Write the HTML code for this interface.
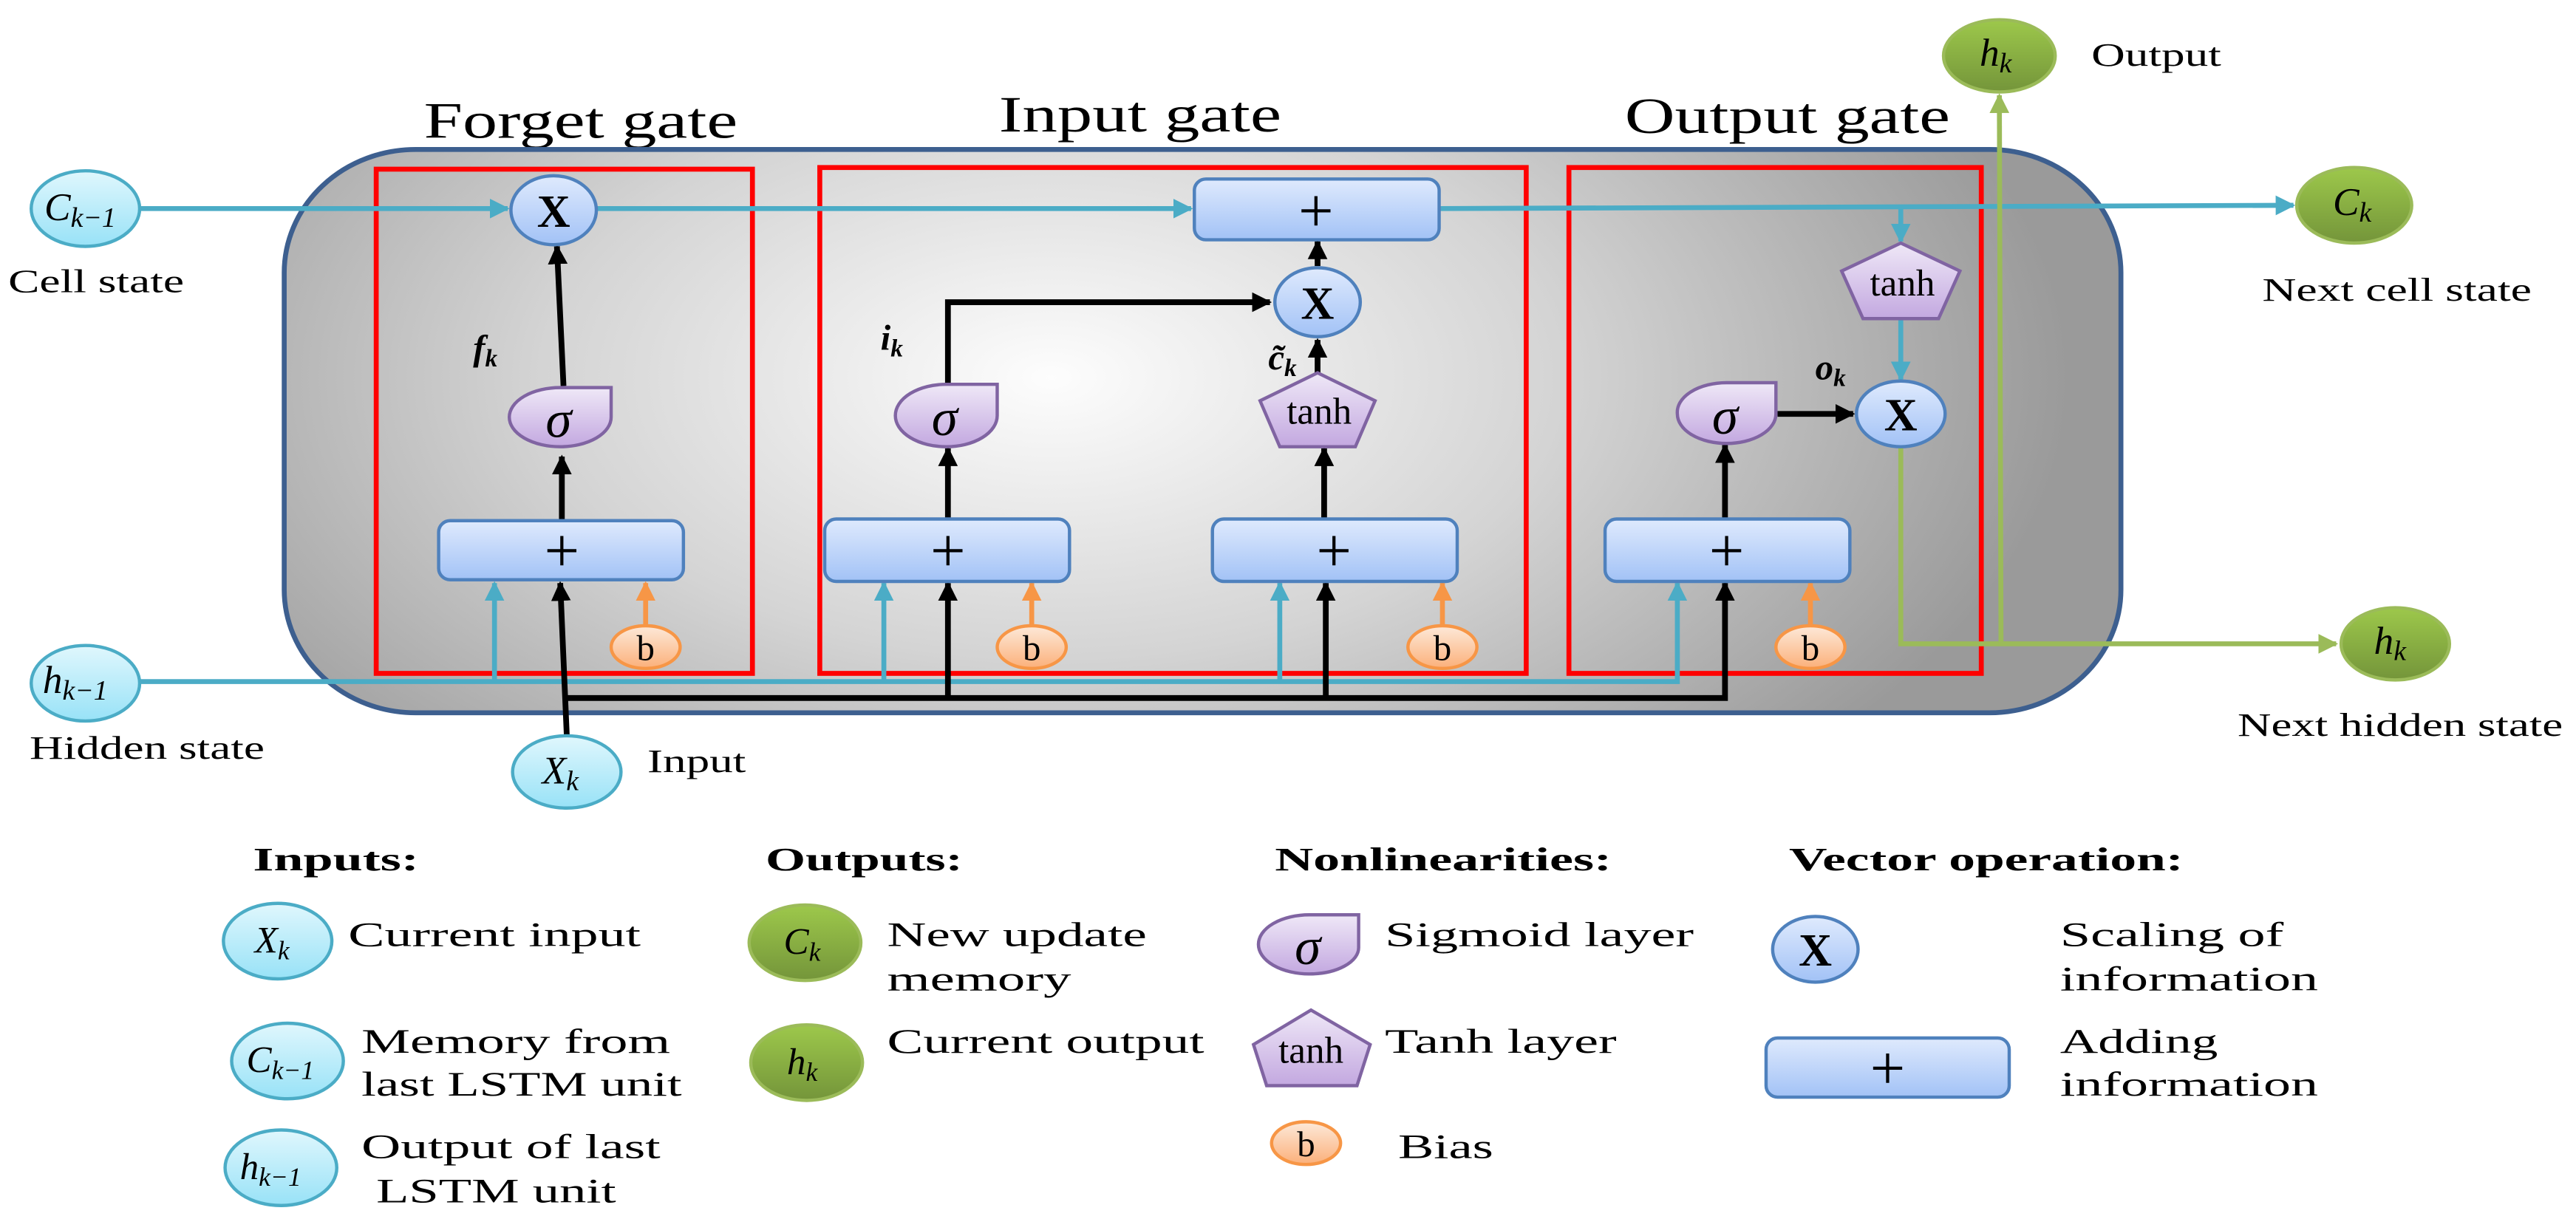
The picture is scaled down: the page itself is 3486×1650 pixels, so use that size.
<!DOCTYPE html>
<html><head><meta charset="utf-8"><style>
html,body{margin:0;padding:0;background:#fff;}
svg{display:block;}
text{font-family:"Liberation Serif","DejaVu Serif",serif;}
</style></head><body>
<svg width="3486" height="1650" viewBox="0 0 1568 742.2" preserveAspectRatio="none" xmlns="http://www.w3.org/2000/svg">
<defs>
<radialGradient id="bg" gradientUnits="userSpaceOnUse" cx="640" cy="230" r="620" gradientTransform="translate(640 230) scale(1 0.55) translate(-640 -230)">
<stop offset="0" stop-color="#fdfdfd"/><stop offset="0.5" stop-color="#d4d4d4"/><stop offset="1" stop-color="#9a9a9a"/></radialGradient>
<linearGradient id="cy" x1="0" y1="0" x2="0" y2="1"><stop offset="0" stop-color="#e0f7fd"/><stop offset="1" stop-color="#98e2f7"/></linearGradient>
<linearGradient id="gr" x1="0" y1="0" x2="0" y2="1"><stop offset="0" stop-color="#9dc84b"/><stop offset="1" stop-color="#74953a"/></linearGradient>
<linearGradient id="bl" x1="0" y1="0" x2="0" y2="1"><stop offset="0" stop-color="#dfeafd"/><stop offset="1" stop-color="#a2c2f6"/></linearGradient>
<linearGradient id="pu" x1="0" y1="0" x2="0" y2="1"><stop offset="0" stop-color="#efe8f7"/><stop offset="1" stop-color="#c3a8e0"/></linearGradient>
<linearGradient id="or" x1="0" y1="0" x2="0" y2="1"><stop offset="0" stop-color="#fde9d9"/><stop offset="1" stop-color="#fbb07a"/></linearGradient>
<marker id="ak" viewBox="0 0 10 10" refX="9" refY="5" markerWidth="12" markerHeight="12" markerUnits="userSpaceOnUse" orient="auto"><path d="M0,0 L10,5 L0,10 z" fill="#000"/></marker>
<marker id="ac" viewBox="0 0 10 10" refX="9" refY="5" markerWidth="12" markerHeight="12" markerUnits="userSpaceOnUse" orient="auto"><path d="M0,0 L10,5 L0,10 z" fill="#4bacc6"/></marker>
<marker id="ao" viewBox="0 0 10 10" refX="9" refY="5" markerWidth="12" markerHeight="12" markerUnits="userSpaceOnUse" orient="auto"><path d="M0,0 L10,5 L0,10 z" fill="#f79646"/></marker>
<marker id="ag" viewBox="0 0 10 10" refX="9" refY="5" markerWidth="12" markerHeight="12" markerUnits="userSpaceOnUse" orient="auto"><path d="M0,0 L10,5 L0,10 z" fill="#9bbb59"/></marker>
</defs>

<text x="258" y="84" font-size="31" textLength="191" lengthAdjust="spacingAndGlyphs">Forget gate</text>
<text x="608" y="80" font-size="31" textLength="172" lengthAdjust="spacingAndGlyphs">Input gate</text>
<text x="989" y="81" font-size="31" textLength="198" lengthAdjust="spacingAndGlyphs">Output gate</text>

<rect x="173" y="91" width="1118" height="343" rx="80" ry="75" fill="url(#bg)" stroke="#3d5f8f" stroke-width="3"/>

<rect x="229" y="103" width="229" height="307" fill="none" stroke="#ff0000" stroke-width="3"/>
<rect x="499" y="102" width="430" height="308" fill="none" stroke="#ff0000" stroke-width="3"/>
<rect x="955" y="102" width="251" height="308" fill="none" stroke="#ff0000" stroke-width="3"/>

<g stroke="#4bacc6" stroke-width="3" fill="none">
<path d="M85,127 L309,127" marker-end="url(#ac)"/>
<path d="M363,127 L725,127" marker-end="url(#ac)"/>
<path d="M876,127 L1396,125" marker-end="url(#ac)"/>
<path d="M1157,127 L1157,147" marker-end="url(#ac)"/>
<path d="M1157,194 L1157,231" marker-end="url(#ac)"/>
<path d="M85,415 L1021,415 L1021,355" marker-end="url(#ac)"/>
<path d="M301,415 L301,355" marker-end="url(#ac)"/>
<path d="M538,415 L538,355" marker-end="url(#ac)"/>
<path d="M779,415 L779,355" marker-end="url(#ac)"/>
</g>

<g stroke="#000" stroke-width="3.5" fill="none">
<path d="M345,448 L341,355" marker-end="url(#ak)"/>
<path d="M344,425 L1050,425 L1050,355" marker-end="url(#ak)"/>
<path d="M577,425 L577,355" marker-end="url(#ak)"/>
<path d="M807,425 L807,355" marker-end="url(#ak)"/>
<path d="M342,317 L342,278" marker-end="url(#ak)"/>
<path d="M343,235 L339,150" marker-end="url(#ak)"/>
<path d="M577,316 L577,273" marker-end="url(#ak)"/>
<path d="M577,234 L577,184 L773,184" marker-end="url(#ak)"/>
<path d="M806,316 L806,273" marker-end="url(#ak)"/>
<path d="M802,227 L802,207" marker-end="url(#ak)"/>
<path d="M802,162 L802,147" marker-end="url(#ak)"/>
<path d="M1050,316 L1050,271" marker-end="url(#ak)"/>
<path d="M1082,252 L1128,252" marker-end="url(#ak)"/>
</g>

<g stroke="#f79646" stroke-width="3" fill="none">
<path d="M393,381 L393,355" marker-end="url(#ao)"/>
<path d="M628,381 L628,355" marker-end="url(#ao)"/>
<path d="M878,381 L878,355" marker-end="url(#ao)"/>
<path d="M1102,381 L1102,355" marker-end="url(#ao)"/>
</g>

<g stroke="#9bbb59" stroke-width="3" fill="none">
<path d="M1157,271 L1157,392 L1422,392" marker-end="url(#ag)"/>
<path d="M1218,392 L1217,58" marker-end="url(#ag)"/>
</g>

<g stroke="#4f81bd" stroke-width="2" fill="url(#bl)">
<rect x="267" y="317" width="149" height="36" rx="7"/>
<rect x="502" y="316" width="149" height="38" rx="7"/>
<rect x="738" y="316" width="149" height="38" rx="7"/>
<rect x="977" y="316" width="149" height="38" rx="7"/>
<rect x="727" y="109" width="149" height="37" rx="7"/>
</g>
<g font-size="38" text-anchor="middle">
<text x="342" y="348">+</text><text x="577" y="348">+</text><text x="812" y="348">+</text><text x="1051" y="348">+</text><text x="801" y="141">+</text>
</g>

<g stroke="#4f81bd" stroke-width="2" fill="url(#bl)">
<ellipse cx="337" cy="128" rx="26" ry="21"/>
<ellipse cx="802" cy="184" rx="26" ry="21"/>
<ellipse cx="1157" cy="252" rx="27" ry="20"/>
</g>
<g font-size="28" font-weight="bold" text-anchor="middle">
<text x="337" y="138">X</text><text x="802" y="194">X</text><text x="1157" y="262">X</text>
</g>

<g stroke="#8064a2" stroke-width="2" fill="url(#pu)">
<path d="M372,236 L372,254 A31,18 0 0 1 341,272 A31,18 0 0 1 310,254 A31,18 0 0 1 341,236 Z"/>
<path d="M607,234 L607,253 A31,19 0 0 1 576,272 A31,19 0 0 1 545,253 A31,19 0 0 1 576,234 Z"/>
<path d="M1081,233 L1081,252 A30,18 0 0 1 1051,270 A30,18 0 0 1 1021,252 A30,18 0 0 1 1051,233 Z"/>
</g>
<g font-size="32" font-style="italic" text-anchor="middle">
<text x="340" y="266">σ</text><text x="575" y="265">σ</text><text x="1050" y="264">σ</text>
</g>

<g stroke="#8064a2" stroke-width="2" fill="url(#pu)">
<polygon points="802,227 837,244 825,272 779,272 767,244"/>
<polygon points="1157,148 1193,165 1180,194 1134,194 1121,165"/>
</g>
<g font-size="23" text-anchor="middle">
<text x="803" y="258">tanh</text><text x="1158" y="180">tanh</text>
</g>

<g stroke="#f79646" stroke-width="2" fill="url(#or)">
<ellipse cx="393" cy="394" rx="21" ry="13"/>
<ellipse cx="628" cy="394" rx="21" ry="13"/>
<ellipse cx="878" cy="394" rx="21" ry="13"/>
<ellipse cx="1102" cy="394" rx="21" ry="13"/>
</g>
<g font-size="22" text-anchor="middle">
<text x="393" y="402">b</text><text x="628" y="402">b</text><text x="878" y="402">b</text><text x="1102" y="402">b</text>
</g>

<g font-size="22" font-weight="bold" font-style="italic">
<text x="288" y="219">f<tspan font-size="15" dy="4">k</tspan></text>
<text x="536" y="213">i<tspan font-size="15" dy="4">k</tspan></text>
<text x="772" y="225">c̃<tspan font-size="15" dy="4">k</tspan></text>
<text x="1105" y="231">o<tspan font-size="15" dy="4">k</tspan></text>
</g>

<g stroke="#4bacc6" stroke-width="2" fill="url(#cy)">
<ellipse cx="52" cy="127" rx="33" ry="23"/>
<ellipse cx="52" cy="416" rx="33" ry="23"/>
<ellipse cx="345" cy="470" rx="33" ry="22"/>
</g>
<g stroke="#9bbb59" stroke-width="2" fill="url(#gr)">
<ellipse cx="1217" cy="34" rx="34" ry="22"/>
<ellipse cx="1433" cy="125" rx="35" ry="23"/>
<ellipse cx="1458" cy="392" rx="33" ry="22"/>
</g>
<g font-size="24" font-style="italic">
<text x="27" y="134">C<tspan font-size="17" dy="4">k−1</tspan></text>
<text x="26" y="422">h<tspan font-size="17" dy="4">k−1</tspan></text>
<text x="330" y="477">X<tspan font-size="17" dy="4">k</tspan></text>
<text x="1205" y="40">h<tspan font-size="17" dy="4">k</tspan></text>
<text x="1420" y="131">C<tspan font-size="17" dy="4">k</tspan></text>
<text x="1445" y="398">h<tspan font-size="17" dy="4">k</tspan></text>
</g>
<g font-size="20">
<text x="5" y="178" textLength="107" lengthAdjust="spacingAndGlyphs">Cell state</text>
<text x="18" y="462" textLength="143" lengthAdjust="spacingAndGlyphs">Hidden state</text>
<text x="394" y="470" textLength="60" lengthAdjust="spacingAndGlyphs">Input</text>
<text x="1273" y="40" textLength="79" lengthAdjust="spacingAndGlyphs">Output</text>
<text x="1377" y="183" textLength="164" lengthAdjust="spacingAndGlyphs">Next cell state</text>
<text x="1362" y="448" textLength="198" lengthAdjust="spacingAndGlyphs">Next hidden state</text>
</g>

<g font-size="20" font-weight="bold">
<text x="154" y="530" textLength="101" lengthAdjust="spacingAndGlyphs">Inputs:</text>
<text x="466" y="530" textLength="120" lengthAdjust="spacingAndGlyphs">Outputs:</text>
<text x="776" y="530" textLength="205" lengthAdjust="spacingAndGlyphs">Nonlinearities:</text>
<text x="1089" y="530" textLength="240" lengthAdjust="spacingAndGlyphs">Vector operation:</text>
</g>
<g stroke="#4bacc6" stroke-width="2" fill="url(#cy)">
<ellipse cx="169" cy="573" rx="33" ry="23"/>
<ellipse cx="175" cy="646" rx="34" ry="23"/>
<ellipse cx="171" cy="711" rx="34" ry="23"/>
</g>
<g stroke="#9bbb59" stroke-width="2" fill="url(#gr)">
<ellipse cx="490" cy="574" rx="34" ry="23"/>
<ellipse cx="491" cy="647" rx="34" ry="23"/>
</g>
<g font-size="23" font-style="italic">
<text x="155" y="580">X<tspan font-size="16" dy="4">k</tspan></text>
<text x="150" y="653">C<tspan font-size="16" dy="4">k−1</tspan></text>
<text x="146" y="718">h<tspan font-size="16" dy="4">k−1</tspan></text>
<text x="477" y="581">C<tspan font-size="16" dy="4">k</tspan></text>
<text x="479" y="654">h<tspan font-size="16" dy="4">k</tspan></text>
</g>
<path d="M827,557 L827,577 A30,16 0 0 1 797,593 A31,18 0 0 1 766,575 A31,18 0 0 1 797,557 Z" stroke="#8064a2" stroke-width="2" fill="url(#pu)"/>
<text x="796" y="587" font-size="32" font-style="italic" text-anchor="middle">σ</text>
<polygon points="798,615 834,636 826,661 771,661 763,636" stroke="#8064a2" stroke-width="2" fill="url(#pu)"/>
<text x="798" y="647" font-size="23" text-anchor="middle">tanh</text>
<ellipse cx="795" cy="696" rx="21" ry="13" stroke="#f79646" stroke-width="2" fill="url(#or)"/>
<text x="795" y="704" font-size="22" text-anchor="middle">b</text>
<ellipse cx="1105" cy="578" rx="26" ry="20" stroke="#4f81bd" stroke-width="2" fill="url(#bl)"/>
<text x="1105" y="588" font-size="28" font-weight="bold" text-anchor="middle">X</text>
<rect x="1075" y="632" width="148" height="36" rx="7" stroke="#4f81bd" stroke-width="2" fill="url(#bl)"/>
<text x="1149" y="663" font-size="38" text-anchor="middle">+</text>
<g font-size="21">
<text x="212" y="576" textLength="178" lengthAdjust="spacingAndGlyphs">Current input</text>
<text x="220" y="641" textLength="188" lengthAdjust="spacingAndGlyphs">Memory from</text>
<text x="220" y="667" textLength="195" lengthAdjust="spacingAndGlyphs">last LSTM unit</text>
<text x="220" y="705" textLength="182" lengthAdjust="spacingAndGlyphs">Output of last</text>
<text x="229" y="732" textLength="146" lengthAdjust="spacingAndGlyphs">LSTM unit</text>
<text x="540" y="576" textLength="158" lengthAdjust="spacingAndGlyphs">New update</text>
<text x="540" y="603" textLength="112" lengthAdjust="spacingAndGlyphs">memory</text>
<text x="540" y="641" textLength="193" lengthAdjust="spacingAndGlyphs">Current output</text>
<text x="843" y="576" textLength="188" lengthAdjust="spacingAndGlyphs">Sigmoid layer</text>
<text x="843" y="641" textLength="141" lengthAdjust="spacingAndGlyphs">Tanh layer</text>
<text x="851" y="705" textLength="58" lengthAdjust="spacingAndGlyphs">Bias</text>
<text x="1254" y="576" textLength="136" lengthAdjust="spacingAndGlyphs">Scaling of</text>
<text x="1254" y="603" textLength="157" lengthAdjust="spacingAndGlyphs">information</text>
<text x="1254" y="641" textLength="96" lengthAdjust="spacingAndGlyphs">Adding</text>
<text x="1254" y="667" textLength="157" lengthAdjust="spacingAndGlyphs">information</text>
</g>
</svg>
</body></html>
